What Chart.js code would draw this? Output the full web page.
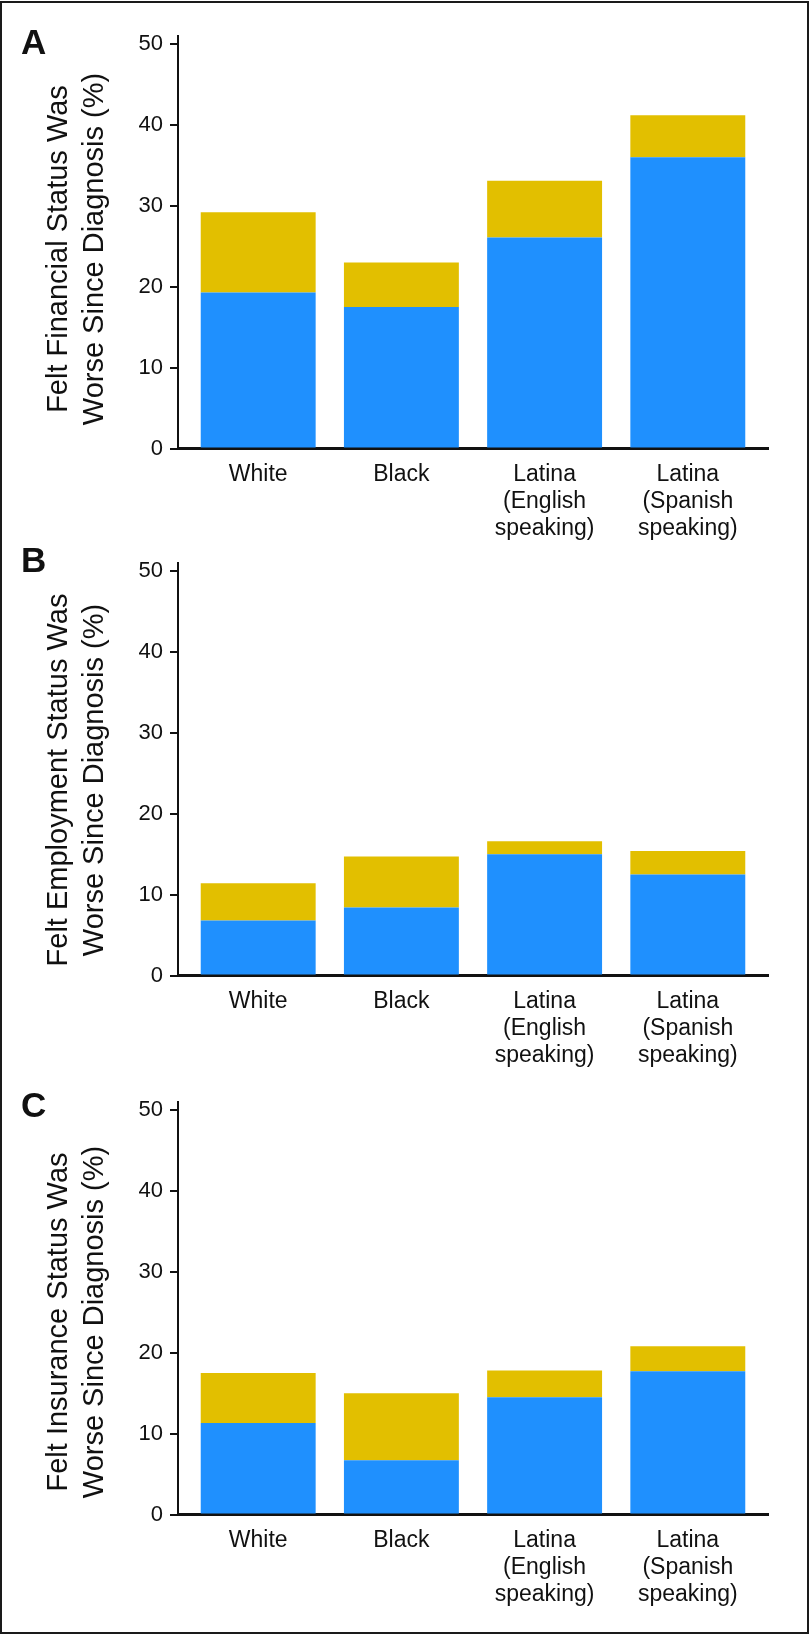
<!DOCTYPE html>
<html>
<head>
<meta charset="utf-8">
<script src="https://cdn.jsdelivr.net/npm/chart.js@4.4.1/dist/chart.umd.min.js"></script>
<style>
  html, body { margin: 0; padding: 0; background: #fff; }
  body { width: 809px; height: 1634px; position: relative; overflow: hidden; font-family: "Liberation Sans", Arial, sans-serif; }
  .frame { position: absolute; left: 0; top: 1px; width: 809px; height: 1633px; border: 2px solid #1a1a1a; box-sizing: border-box; pointer-events: none; }
  .panel { position: absolute; left: 0; width: 809px; height: 560px; }
  .letter { position: absolute; left: 21px; font-weight: bold; font-size: 35px; line-height: 1; color: #111; }
</style>
</head>
<body>
<div class="panel" style="top:0px"><canvas id="chartA" width="809" height="560"></canvas></div>
<div class="panel" style="top:527px"><canvas id="chartB" width="809" height="560"></canvas></div>
<div class="panel" style="top:1066px"><canvas id="chartC" width="809" height="560"></canvas></div>
<div class="letter" style="top:24px">A</div>
<div class="letter" style="top:542px">B</div>
<div class="letter" style="top:1087px">C</div>
<div class="frame"></div>

<script>
// categories (multi-line labels)
const categories = ['White', 'Black', ['Latina', '(English', 'speaking)'], ['Latina', '(Spanish', 'speaking)']];
const yTicks = [0, 10, 20, 30, 40, 50];

// A: financial status (blue part, yellow part on top)
const financialBlue = [19.3, 17.5, 26.1, 36.0];
const financialYellow = [9.9, 5.5, 7.0, 5.2];

// B: employment status
const employmentBlue = [6.8, 8.4, 15.0, 12.5];
const employmentYellow = [4.6, 6.3, 1.6, 2.9];

// C: insurance status
const insuranceBlue = [11.3, 6.7, 14.5, 17.7];
const insuranceYellow = [6.2, 8.3, 3.3, 3.1];

const FONT = '"Liberation Sans", Arial, sans-serif';
const INK = '#111';

// draws the two-line rotated y axis title
const yTitlePlugin = {
  id: 'yTitle',
  afterDraw(chart, args, opts) {
    const { ctx, chartArea } = chart;
    const cy = (chartArea.top + chartArea.bottom) / 2 + opts.shift;
    ctx.save();
    ctx.font = '29px ' + FONT;
    ctx.fillStyle = INK;
    ctx.textAlign = 'center';
    ctx.textBaseline = 'middle';
    opts.lines.forEach((line, i) => {
      ctx.save();
      ctx.translate(59 + i * 36, cy);
      ctx.rotate(-Math.PI / 2);
      ctx.fillText(line, 0, 0);
      ctx.restore();
    });
    ctx.restore();
  }
};

function toPoints(values) {
  return values.map((v, i) => ({ x: i, y: v }));
}

function makeChart(id, blue, yellow, titleLines, shift) {
  const ctx = document.getElementById(id).getContext('2d');
  return new Chart(ctx, {
    type: 'bar',
    data: {
      datasets: [
        { data: toPoints(blue), backgroundColor: '#1f90fe', borderWidth: 0 },
        { data: toPoints(yellow), backgroundColor: '#e2bf00', borderWidth: 0 }
      ]
    },
    options: {
      responsive: false,
      animation: false,
      layout: { padding: { left: 41, right: 41, top: 36, bottom: 11.5 } },
      datasets: { bar: { categoryPercentage: 1, barPercentage: 0.8025 } },
      plugins: {
        legend: { display: false },
        tooltip: { enabled: false },
        yTitle: { lines: titleLines, shift: shift }
      },
      scales: {
        x: {
          type: 'linear',
          min: -0.56,
          max: 3.56,
          offset: false,
          stacked: true,
          afterBuildTicks: s => { s.ticks = categories.map((c, i) => ({ value: i })); },
          afterFit: s => { s.height = 100; },
          grid: { display: false, drawTicks: false, offset: false },
          border: { display: true, color: INK, width: 3 },
          ticks: {
            callback: v => categories[v],
            color: INK,
            font: { family: FONT, size: 23, lineHeight: 1.16 },
            padding: 13,
            maxRotation: 0,
            autoSkip: false
          }
        },
        y: {
          min: 0,
          max: 51,
          stacked: true,
          afterBuildTicks: s => { s.ticks = yTicks.map(v => ({ value: v })); },
          afterFit: s => { s.width = 137; },
          grid: { drawOnChartArea: false, drawTicks: true, tickLength: 8, color: INK, lineWidth: 2 },
          border: { display: true, color: INK, width: 2 },
          ticks: { color: INK, padding: 7, font: { family: FONT, size: 22 } }
        }
      }
    },
    plugins: [yTitlePlugin]
  });
}

makeChart('chartA', financialBlue, financialYellow, ['Felt Financial Status Was', 'Worse Since Diagnosis (%)'], 6.75);
makeChart('chartB', employmentBlue, employmentYellow, ['Felt Employment Status Was', 'Worse Since Diagnosis (%)'], 10.75);
makeChart('chartC', insuranceBlue, insuranceYellow, ['Felt Insurance Status Was', 'Worse Since Diagnosis (%)'], 13.75);
</script>
</body>
</html>
